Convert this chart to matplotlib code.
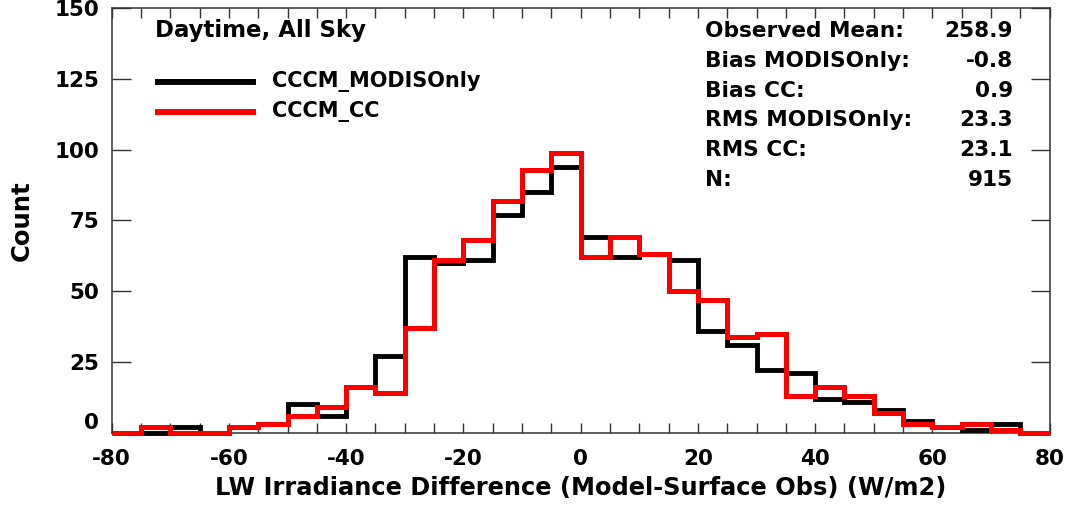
import numpy as np
import matplotlib
matplotlib.use("Agg")
import matplotlib.pyplot as plt

plt.rcParams['font.family'] = ['DejaVu Sans']
plt.rcParams['font.weight'] = 'bold'
plt.rcParams['axes.unicode_minus'] = False

# bin edges (W/m2), 5 W/m2 wide
edges = np.arange(-80, 81, 5)

# counts per bin
modis_only = [0, 0, 2, 0, 2, 3, 10, 6, 16, 27, 62, 60, 61, 77, 85, 94,
              69, 62, 63, 61, 36, 31, 22, 21, 12, 11, 8, 4, 2, 1, 3, 0]
cccm_cc = [0, 2, 0, 0, 2, 3, 6, 9, 16, 14, 37, 61, 68, 82, 93, 99,
           62, 69, 63, 50, 47, 34, 35, 13, 16, 13, 7, 3, 2, 3, 1, 0]

series_names = ['CCCM_MODISOnly', 'CCCM_CC']
stat_labels = ['Observed Mean:', 'Bias MODISOnly:', 'Bias CC:',
               'RMS MODISOnly:', 'RMS CC:', 'N:']
stat_values = ['258.9', '-0.8', '0.9', '23.3', '23.1', '915']

W, H = 1070, 508
fig = plt.figure(figsize=(W / 100, H / 100), dpi=100)
ax = fig.add_axes([111.7 / W, 1 - 432.7 / H, (1049.6 - 111.7) / W, (432.7 - 8.3) / H])

ax.stairs(modis_only, edges, color='black', linewidth=3.5, clip_on=False, zorder=3)
ax.stairs(cccm_cc, edges, color='red', linewidth=3.6, clip_on=False, zorder=4)

ax.set_xlim(-80, 80)
ax.set_ylim(0, 150)
ax.set_xticks(np.arange(-80, 81, 20))
ax.set_xticks(np.arange(-80, 81, 5), minor=True)
ax.set_yticks(np.arange(0, 151, 25))
ax.tick_params(axis='both', which='both', direction='in', top=True, right=True,
               labelsize=15.5, width=1.0, colors='#333333', labelcolor='black')
ax.tick_params(axis='x', which='both', length=7, pad=11.5)
ax.tick_params(axis='y', which='major', length=14, pad=9)
for s in ax.spines.values():
    s.set_linewidth(1.1)
    s.set_color('#333333')
ax.get_yticklabels()[0].set_va('bottom')

ax.set_xlabel('LW Irradiance Difference (Model-Surface Obs) (W/m2)',
              fontsize=17.4, fontweight='bold', labelpad=5)
ax.set_ylabel('Count', fontsize=17.5, fontweight='bold', labelpad=15)

def px(x, y):
    return x / W, 1 - y / H

fig.text(*px(155, 31), 'Daytime, All Sky', fontsize=16.5, fontweight='bold', va='center')

# legend drawn by hand, lines in figure pixel space
for i, (name, col) in enumerate(zip(series_names, ['black', 'red'])):
    yy = 82 + 30 * i
    x0, y0 = px(158, yy)
    x1, _ = px(253, yy)
    fig.add_artist(plt.Line2D([x0, x1], [y0, y0], color=col, linewidth=4.3,
                              transform=fig.transFigure))
    fig.text(*px(272, yy), name, fontsize=15, fontweight='bold', va='center')

for i, (lab, val) in enumerate(zip(stat_labels, stat_values)):
    yy = 31 + 29.8 * i
    fig.text(*px(705, yy), lab, fontsize=15.6, fontweight='bold', va='center')
    fig.text(*px(1013, yy), val, fontsize=15.6, fontweight='bold', va='center', ha='right')

fig.savefig('out.png', dpi=100)
